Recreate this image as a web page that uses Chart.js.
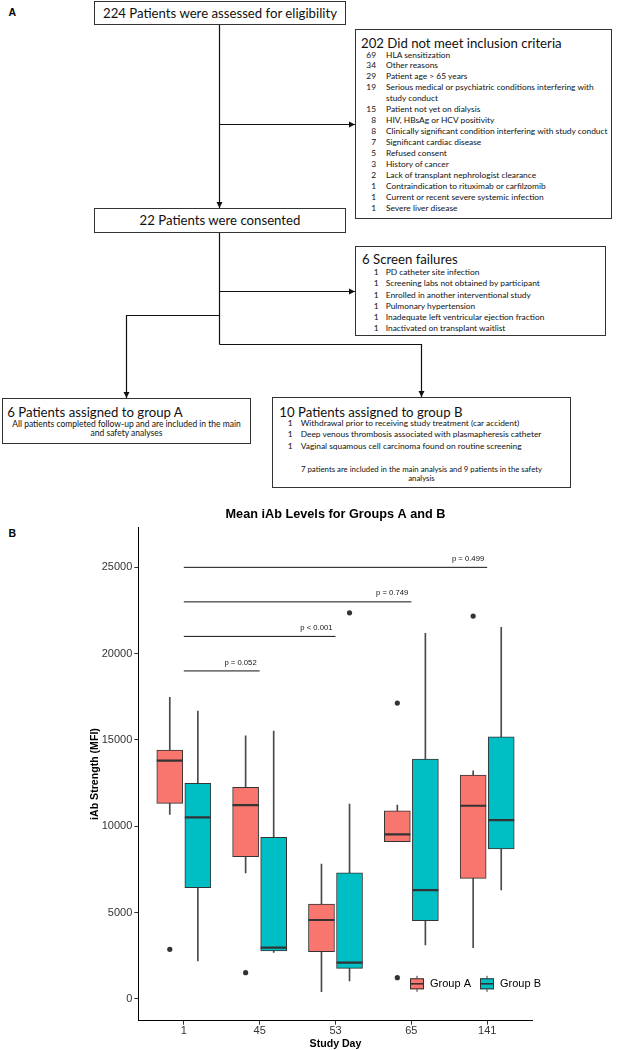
<!DOCTYPE html>
<html>
<head>
<meta charset="utf-8">
<script src="https://cdn.jsdelivr.net/npm/chart.js@4.4.1/dist/chart.umd.min.js"></script>
<style>
  html, body { margin: 0; padding: 0; background: #fff; }
  body { width: 621px; height: 1050px; position: relative; overflow: hidden; font-family: Lato, "Open Sans", sans-serif; color: #111; }
  .tag { position: absolute; font: bold 10.5px/11px "Liberation Sans", Arial, sans-serif; color: #000; }
  .box { position: absolute; border: 1px solid #333; box-sizing: border-box; background: #fff; white-space: nowrap; }
  .head { position: absolute; font-size: 13.2px; line-height: 16px; }
  .list { position: absolute; left: 0; font-size: 8.4px; }
  .n { display: inline-block; text-align: right; }
  .centre { position: absolute; left: 0; right: 0; text-align: center; font-size: 8.5px; }
  #flow { position: absolute; left: 0; top: 0; }
  #chart { position: absolute; left: 0; top: 496px; }
</style>
</head>
<body>

<svg id="flow" width="621" height="496">
  <defs>
    <marker id="ah" markerWidth="7" markerHeight="7" refX="6" refY="3.5" orient="auto" markerUnits="userSpaceOnUse">
      <path d="M0,0.5 L6,3.5 L0,6.5 z" fill="#111"/>
    </marker>
  </defs>
  <g stroke="#111" stroke-width="1.2" fill="none">
    <line x1="219.5" y1="25" x2="219.5" y2="208" marker-end="url(#ah)"/>
    <line x1="219.5" y1="124.5" x2="355" y2="124.5" marker-end="url(#ah)"/>
    <line x1="219.5" y1="233" x2="219.5" y2="344.5"/>
    <line x1="219.5" y1="291.5" x2="355" y2="291.5" marker-end="url(#ah)"/>
    <polyline points="219.5,315.5 126.5,315.5 126.5,398" marker-end="url(#ah)"/>
    <polyline points="219.5,344.5 421.5,344.5 421.5,397" marker-end="url(#ah)"/>
  </g>
</svg>

<div class="tag" style="left:8.5px;top:7px">A</div>
<div class="tag" style="left:8.5px;top:528px">B</div>

<div class="box" style="left:94px;top:1px;width:252px;height:24px;text-align:center;font-size:13.2px;line-height:22px">224 Patients were assessed for eligibility</div>

<div class="box" style="left:355px;top:29px;width:257px;height:190px">
  <div class="head" style="left:5px;top:5.3px">202 Did not meet inclusion criteria</div>
  <div class="list" style="top:19.5px;line-height:10.95px">
    <div><span class="n" style="width:20px;margin-right:10px">69</span>HLA sensitization</div>
    <div><span class="n" style="width:20px;margin-right:10px">34</span>Other reasons</div>
    <div><span class="n" style="width:20px;margin-right:10px">29</span>Patient age &gt; 65 years</div>
    <div><span class="n" style="width:20px;margin-right:10px">19</span>Serious medical or psychiatric conditions interfering with</div>
    <div><span class="n" style="width:20px;margin-right:10px"></span>study conduct</div>
    <div><span class="n" style="width:20px;margin-right:10px">15</span>Patient not yet on dialysis</div>
    <div><span class="n" style="width:20px;margin-right:10px">8</span>HIV, HBsAg or HCV positivity</div>
    <div><span class="n" style="width:20px;margin-right:10px">8</span>Clinically significant condition interfering with study conduct</div>
    <div><span class="n" style="width:20px;margin-right:10px">7</span>Significant cardiac disease</div>
    <div><span class="n" style="width:20px;margin-right:10px">5</span>Refused consent</div>
    <div><span class="n" style="width:20px;margin-right:10px">3</span>History of cancer</div>
    <div><span class="n" style="width:20px;margin-right:10px">2</span>Lack of transplant nephrologist clearance</div>
    <div><span class="n" style="width:20px;margin-right:10px">1</span>Contraindication to rituximab or carfilzomib</div>
    <div><span class="n" style="width:20px;margin-right:10px">1</span>Current or recent severe systemic infection</div>
    <div><span class="n" style="width:20px;margin-right:10px">1</span>Severe liver disease</div>
  </div>
</div>

<div class="box" style="left:94px;top:208px;width:252px;height:25px;text-align:center;font-size:13.2px;line-height:23px">22 Patients were consented</div>

<div class="box" style="left:355px;top:246px;width:251px;height:90px">
  <div class="head" style="left:6px;top:4.3px">6 Screen failures</div>
  <div class="list" style="top:20.1px;line-height:11.2px">
    <div><span class="n" style="width:22.7px;margin-right:7px">1</span>PD catheter site infection</div>
    <div><span class="n" style="width:22.7px;margin-right:7px">1</span>Screening labs not obtained by participant</div>
    <div><span class="n" style="width:22.7px;margin-right:7px">1</span>Enrolled in another interventional study</div>
    <div><span class="n" style="width:22.7px;margin-right:7px">1</span>Pulmonary hypertension</div>
    <div><span class="n" style="width:22.7px;margin-right:7px">1</span>Inadequate left ventricular ejection fraction</div>
    <div><span class="n" style="width:22.7px;margin-right:7px">1</span>Inactivated on transplant waitlist</div>
  </div>
</div>

<div class="box" style="left:2px;top:398px;width:249px;height:46px">
  <div class="head" style="left:4.3px;top:5.3px">6 Patients assigned to group A</div>
  <div class="centre" style="top:20.5px;line-height:9.5px">All patients completed follow-up and are included in the main<br>and safety analyses</div>
</div>

<div class="box" style="left:272px;top:397px;width:299px;height:91px">
  <div class="head" style="left:6.3px;top:6.3px">10 Patients assigned to group B</div>
  <div class="list" style="top:20px;line-height:11.3px">
    <div><span class="n" style="width:19.5px;margin-right:8.2px">1</span>Withdrawal prior to receiving study treatment (car accident)</div>
    <div><span class="n" style="width:19.5px;margin-right:8.2px">1</span>Deep venous thrombosis associated with plasmapheresis catheter</div>
    <div><span class="n" style="width:19.5px;margin-right:8.2px">1</span>Vaginal squamous cell carcinoma found on routine screening</div>
  </div>
  <div class="centre" style="top:66.6px;line-height:9.4px;font-size:7.8px">7 patients are included in the main analysis and 9 patients in the safety<br>analysis</div>
</div>

<canvas id="chart" width="621" height="554"></canvas>

<script>
const studyDays = ['1', '45', '53', '65', '141'];
const yTickValues = [0, 5000, 10000, 15000, 20000, 25000];

// Group A box statistics per study day (MFI)
const groupALow = [10695, 7296, 423, 9108, 2970];
const groupAQ1 = [11330, 8240, 2739, 9108, 6989];
const groupAMedian = [13800, 11233, 4574, 9537, 11193];
const groupAQ3 = [14418, 12258, 5501, 10903, 12970];
const groupAHigh = [17470, 15246, 7817, 11233, 13219];
const groupAOutliers = [[2878], [1523], [], [17140, 1233], [22177]];

// Group B box statistics per study day (MFI)
const groupBLow = [2200, 2704, 1042, 3127, 6311];
const groupBQ1 = [6445, 2780, 1778, 4534, 8686];
const groupBMedian = [10521, 2970, 2102, 6311, 10365];
const groupBQ3 = [12490, 9363, 7313, 13897, 15188];
const groupBHigh = [16676, 15518, 11291, 21176, 21523];
const groupBOutliers = [[], [], [22368], [], []];

// comparisons against day 1
const bracketFrom = [1, 1, 1, 1];
const bracketTo = [2, 3, 4, 5];
const bracketY = [19000, 21000, 23000, 25000];
const bracketLabels = ['p = 0.052', 'p < 0.001', 'p = 0.749', 'p = 0.499'];

const colorA = '#F8766D';
const colorB = '#00BFC4';
const ink = '#333333';
const dodge = 0.185;
const fontFamily = '"Liberation Sans", Arial, Helvetica, sans-serif';

Chart.defaults.font.family = fontFamily;

const rangeData = (offset, lo, hi) => lo.map((v, i) => ({ x: i + 1 + offset, y: [v, hi[i]] }));
const pointData = (offset, vals) => vals.map((v, i) => ({ x: i + 1 + offset, y: v }));
const outlierData = (offset, outs) => outs.flatMap((list, i) => list.map(v => ({ x: i + 1 + offset, y: v })));

const whisker = (offset, lo, hi) => ({
    type: 'bar', data: rangeData(offset, lo, hi), grouped: false,
    barThickness: 1, backgroundColor: '#4a4a4a', borderWidth: 0, order: 5
});
const box = (label, offset, q1, q3, color) => ({
    type: 'bar', label: label, data: rangeData(offset, q1, q3), grouped: false,
    barThickness: 26, backgroundColor: color, borderColor: ink, borderWidth: 1,
    borderSkipped: false, order: 4
});
const median = (offset, vals) => ({
    type: 'line', data: pointData(offset, vals), showLine: false,
    pointStyle: 'line', pointRadius: 13, pointBorderWidth: 2.2, pointBorderColor: ink, order: 3
});
const outliers = (offset, outs) => ({
    type: 'line', data: outlierData(offset, outs), showLine: false,
    pointStyle: 'circle', pointRadius: 2.6, pointBackgroundColor: ink, pointBorderWidth: 0, order: 2
});
const brackets = bracketY.map((yv, i) => ({
    type: 'line', data: [{ x: bracketFrom[i], y: yv }, { x: bracketTo[i], y: yv }],
    borderColor: '#111', borderWidth: 1, pointRadius: 0, order: 1
}));

const annotations = {
    id: 'annotations',
    afterDraw(chart) {
        const { ctx, chartArea, scales: { x, y } } = chart;
        ctx.save();
        ctx.fillStyle = '#111';
        ctx.font = '7.7px ' + fontFamily;
        ctx.textAlign = 'right';
        ctx.textBaseline = 'middle';
        bracketLabels.forEach((label, i) => {
            ctx.fillText(label, x.getPixelForValue(bracketTo[i]) - 3, y.getPixelForValue(bracketY[i]) - 8.5);
        });

        // boxplot legend inside the panel, lower right
        const keys = chart.data.datasets.filter(d => d.label);
        const top = chartArea.bottom - 42.4;
        keys.forEach((d, i) => {
            const left = chartArea.right - 122.7 + i * 70;
            ctx.fillStyle = d.backgroundColor;
            ctx.fillRect(left, top, 14, 11);
            ctx.strokeStyle = ink;
            ctx.lineWidth = 1;
            ctx.strokeRect(left + 0.5, top + 0.5, 13, 10);
            ctx.beginPath();
            ctx.moveTo(left + 7, top - 2.5); ctx.lineTo(left + 7, top);
            ctx.moveTo(left + 7, top + 11); ctx.lineTo(left + 7, top + 13.5);
            ctx.stroke();
            ctx.lineWidth = 1.6;
            ctx.beginPath();
            ctx.moveTo(left, top + 5.5); ctx.lineTo(left + 14, top + 5.5);
            ctx.stroke();
            ctx.fillStyle = '#000';
            ctx.font = '11px ' + fontFamily;
            ctx.textAlign = 'left';
            ctx.fillText(d.label, left + 20, top + 5.7);
        });
        ctx.restore();
    }
};

new Chart(document.getElementById('chart'), {
    type: 'bar',
    data: {
        datasets: [
            whisker(-dodge, groupALow, groupAHigh),
            whisker(dodge, groupBLow, groupBHigh),
            box('Group A', -dodge, groupAQ1, groupAQ3, colorA),
            box('Group B', dodge, groupBQ1, groupBQ3, colorB),
            median(-dodge, groupAMedian),
            median(dodge, groupBMedian),
            outliers(-dodge, groupAOutliers),
            outliers(dodge, groupBOutliers),
            ...brackets
        ]
    },
    options: {
        responsive: false,
        devicePixelRatio: 1,
        animation: false,
        events: [],
        layout: { padding: { left: 88.3, right: 88.3, top: 0, bottom: 0 } },
        plugins: {
            legend: { display: false },
            tooltip: { enabled: false },
            title: {
                display: true,
                text: 'Mean iAb Levels for Groups A and B',
                fullSize: false,
                color: '#000',
                font: { size: 12.7, weight: 'bold' },
                padding: { top: 10.4, bottom: 5.7 }
            }
        },
        scales: {
            x: {
                type: 'linear',
                min: 0.4,
                max: 5.6,
                offset: false,
                afterBuildTicks: (scale) => { scale.ticks = studyDays.map((d, i) => ({ value: i + 1 })); },
                afterFit: (scale) => { scale.height = 29.3; },
                ticks: {
                    callback: (value) => studyDays[value - 1],
                    color: ink,
                    font: { size: 11 },
                    padding: 0,
                    autoSkip: false,
                    maxRotation: 0
                },
                grid: { offset: false, drawOnChartArea: false, tickLength: 4, color: ink },
                border: { color: '#000', width: 1 },
                title: {
                    display: true,
                    text: 'Study Day',
                    color: '#000',
                    font: { size: 10.6, weight: 'bold' },
                    padding: { top: 0, bottom: 0 }
                }
            },
            y: {
                min: -1257,
                max: 27316,
                afterBuildTicks: (scale) => { scale.ticks = yTickValues.map(v => ({ value: v })); },
                afterFit: (scale) => { scale.width = 50; },
                ticks: { callback: (value) => String(value), color: ink, font: { size: 11 }, padding: 2 },
                grid: { drawOnChartArea: false, tickLength: 4, color: ink },
                border: { color: '#000', width: 1 },
                title: {
                    display: true,
                    text: 'iAb Strength (MFI)',
                    color: '#000',
                    font: { size: 10.6, weight: 'bold' },
                    padding: { top: 0, bottom: 0 }
                }
            }
        }
    },
    plugins: [annotations]
});
</script>
</body>
</html>
